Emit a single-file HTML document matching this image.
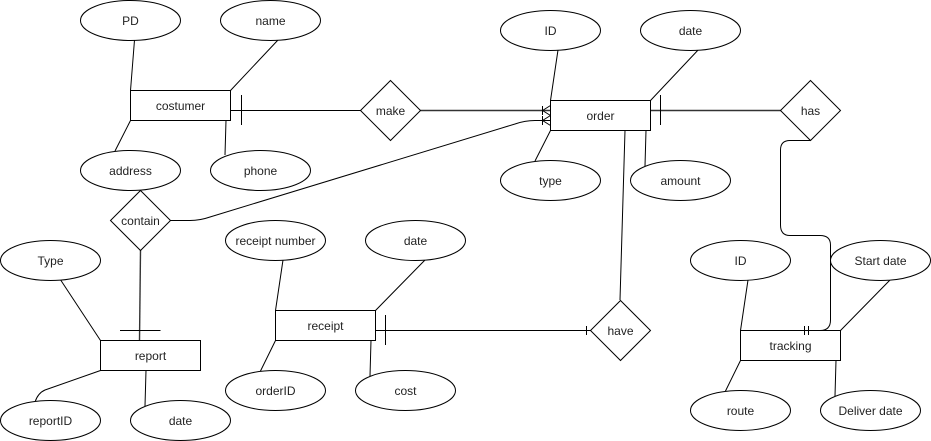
<!DOCTYPE html>
<html>
<head>
<meta charset="utf-8">
<style>
html,body{margin:0;padding:0;background:#fff;width:931px;height:441px;overflow:hidden}
svg{display:block}
text{font-family:"Liberation Sans",Arial,sans-serif;font-size:12px;fill:#222;text-anchor:middle}
.s{fill:#fff;stroke:#000;stroke-width:1}
.l{fill:none;stroke:#000;stroke-width:1}
.g{fill:none;stroke:#333;stroke-width:1.4}
</style>
</head>
<body>
<svg width="931" height="441" viewBox="0 0 931 441" xmlns="http://www.w3.org/2000/svg">
<!-- attribute lines -->
<path class="l" d="M134.5 40L130.5 90.5M278 40L230.5 90.5M130.5 120.5L115 151M226 120.5L225 155"/>
<path class="l" d="M558 50L550.5 100.5M700 48L650.5 100.5M550.5 130.5L535 161M646 130.5L645 166M625 130.5L620 300"/>
<path class="l" d="M60 279L100.5 340.5M100.5 370.5L45 390Q38 393 35 402M146 370.5L145 406"/>
<path class="l" d="M283 260L275.5 310.5M425 260L375.5 310.5M275.5 340.5L260 372M371 340.5L370 376"/>
<path class="l" d="M748 280L740.5 330.5M890 280L840.5 330.5M740.5 360.5L725 392M836 360.5L835 396"/>
<!-- relationships -->
<path class="l" d="M230.5 110.5H360.5M241.5 95V125"/>
<path class="g" d="M420.5 110.5H550"/>
<path class="l" d="M542.5 106V115M542.5 110.5L550.5 105.5M542.5 110.5L550.5 115.5"/>
<path class="l" d="M170.5 220.5H190Q200 220.5 210 217L515 124Q525 120.5 535 120.5H550"/>
<path class="l" d="M542.5 116V125M542.5 120.5L550.5 115.5M542.5 120.5L550.5 125.5"/>
<path class="g" d="M650.5 110.5H780.5"/>
<path class="l" d="M660.5 95V125"/>
<path class="l" d="M810.5 140.5H790Q780.5 140.5 780.5 150V225Q780.5 235.5 790 235.5H820Q830.5 235.5 830.5 245V320Q830.5 330.5 820 330.5H804"/>
<path class="g" d="M140.5 250.5L139.5 340.5"/>
<path class="l" d="M120 330.5H160.5"/>
<path class="l" d="M375.5 330.5H590.5M385.5 315V345M586.5 326V335"/>
<!-- ellipses -->
<g class="s">
<ellipse cx="130.5" cy="20.5" rx="50" ry="20"/>
<ellipse cx="270.5" cy="20.5" rx="50" ry="20"/>
<ellipse cx="130.5" cy="170.5" rx="50" ry="20"/>
<ellipse cx="260.5" cy="170.5" rx="50" ry="20"/>
<ellipse cx="550.5" cy="30.5" rx="50" ry="20"/>
<ellipse cx="690.5" cy="30.5" rx="50" ry="20"/>
<ellipse cx="550.5" cy="180.5" rx="50" ry="20"/>
<ellipse cx="680.5" cy="180.5" rx="50" ry="20"/>
<ellipse cx="50.5" cy="260.5" rx="50" ry="20"/>
<ellipse cx="50.5" cy="420.5" rx="50" ry="20"/>
<ellipse cx="180.5" cy="420.5" rx="50" ry="20"/>
<ellipse cx="275.5" cy="240.5" rx="50" ry="20"/>
<ellipse cx="415.5" cy="240.5" rx="50" ry="20"/>
<ellipse cx="275.5" cy="390.5" rx="50" ry="20"/>
<ellipse cx="405.5" cy="390.5" rx="50" ry="20"/>
<ellipse cx="740.5" cy="260.5" rx="50" ry="20"/>
<ellipse cx="880.5" cy="260.5" rx="50" ry="20"/>
<ellipse cx="740.5" cy="410.5" rx="50" ry="20"/>
<ellipse cx="870.5" cy="410.5" rx="50" ry="20"/>
<!-- rects -->
<rect x="130.5" y="90.5" width="100" height="30"/>
<rect x="550.5" y="100.5" width="100" height="30"/>
<rect x="100.5" y="340.5" width="100" height="30"/>
<rect x="275.5" y="310.5" width="100" height="30"/>
<rect x="740.5" y="330.5" width="100" height="30"/>
<!-- diamonds -->
<polygon points="390.5,80.5 420.5,110.5 390.5,140.5 360.5,110.5"/>
<polygon points="810.5,80.5 840.5,110.5 810.5,140.5 780.5,110.5"/>
<polygon points="140.5,190.5 170.5,220.5 140.5,250.5 110.5,220.5"/>
<polygon points="620.5,300.5 650.5,330.5 620.5,360.5 590.5,330.5"/>
</g>
<!-- markers that sit on top of shapes -->
<path class="l" d="M804.5 326V335M808.5 326V335"/>
<!-- labels -->
<text x="130.5" y="25">PD</text>
<text x="270.5" y="25">name</text>
<text x="130.5" y="175">address</text>
<text x="260.5" y="175">phone</text>
<text x="550.5" y="35">ID</text>
<text x="690.5" y="35">date</text>
<text x="550.5" y="185">type</text>
<text x="680.5" y="185">amount</text>
<text x="50.5" y="265">Type</text>
<text x="50.5" y="425">reportID</text>
<text x="180.5" y="425">date</text>
<text x="275.5" y="245">receipt number</text>
<text x="415.5" y="245">date</text>
<text x="275.5" y="395">orderID</text>
<text x="405.5" y="395">cost</text>
<text x="740.5" y="265">ID</text>
<text x="880.5" y="265">Start date</text>
<text x="740.5" y="415">route</text>
<text x="870.5" y="415">Deliver date</text>
<text x="180.5" y="110">costumer</text>
<text x="600.5" y="120">order</text>
<text x="150.5" y="360">report</text>
<text x="325.5" y="330">receipt</text>
<text x="790.5" y="350">tracking</text>
<text x="390.5" y="115">make</text>
<text x="810.5" y="115">has</text>
<text x="140.5" y="225">contain</text>
<text x="620.5" y="335">have</text>
</svg>
</body>
</html>
